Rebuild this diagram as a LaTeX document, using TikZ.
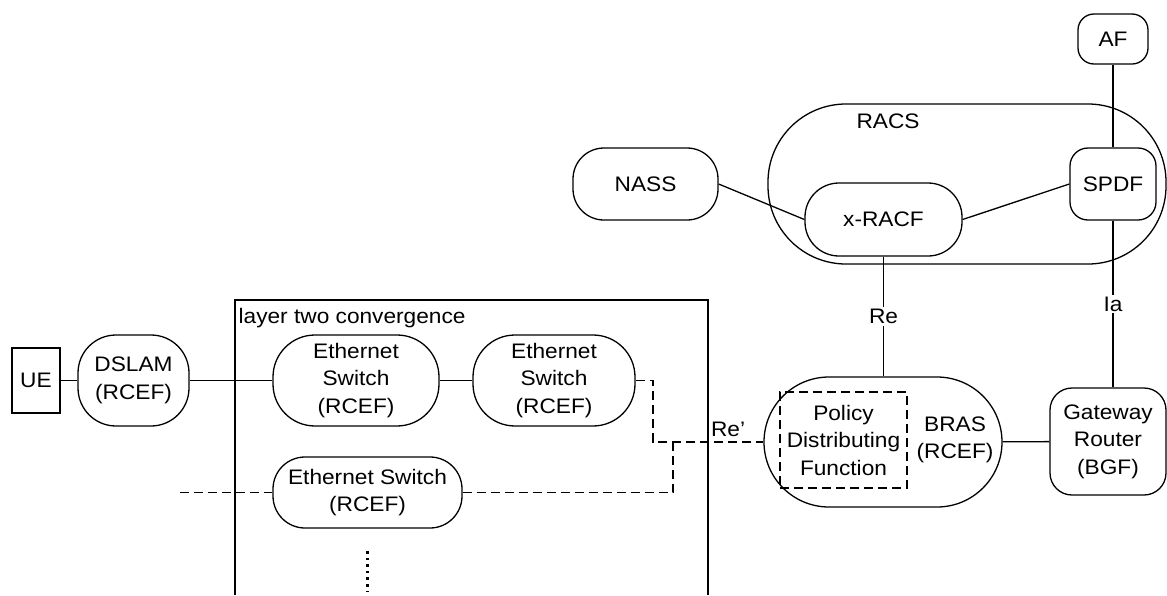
\documentclass[tikz,border=0pt]{standalone}
\usepackage{fontspec}
\setmainfont{Liberation Sans}[FakeStretch=1.08]

\begin{document}
\begin{tikzpicture}[x=1pt,y=-1pt,line width=1.3pt,
  every node/.style={font=\fontsize{21}{27.5}\selectfont,inner sep=0pt,align=center},
  fe/.style={draw=black,rounded corners=#1},
  fe/.default=0pt,
  dsh/.style={dash pattern=on 9pt off 5pt}]
\useasboundingbox (0,0) rectangle (1167,595);
\draw (235,595) -- (235,300) -- (708,300) -- (708,595);
\node [anchor=base west] (l2c) at (238,323) {layer two convergence};
\node [fe, minimum width=48, minimum height=65] (ue) at (36,380.5) {UE};
\node [fe=38, minimum width=111, minimum height=91] (dslam) at (133.5,380.5) {DSLAM\\(RCEF)};
\node [fe=42, minimum width=166, minimum height=91] (es1) at (356,380.5) {Ethernet\\Switch\\(RCEF)};
\node [fe=42, minimum width=162, minimum height=91] (es2) at (554,380.5) {Ethernet\\Switch\\(RCEF)};
\node [fe=32, minimum width=189, minimum height=71] (es3) at (367.5,492.5) {Ethernet Switch\\(RCEF)};
\node [fe=31, minimum width=145, minimum height=72] (nass) at (645.5,184) {NASS};
\node [fe=78, minimum width=398, minimum height=160] (racs) at (967,184) {};
\node [anchor=base] (racsl) at (888,128) {RACS};
\node [fe=34, minimum width=157, minimum height=73] (xracf) at (883.5,219.5) {x-RACF};
\node [fe=18, minimum width=86, minimum height=72] (spdf) at (1113,184) {SPDF};
\node [fe=16, minimum width=70, minimum height=50] (af) at (1113,39) {AF};
\node [fe=65, minimum width=238, minimum height=130] (bras) at (883,442) {};
\node [draw, dsh, minimum width=127, minimum height=96] (pdf) at (843.5,440) {Policy\\Distributing\\Function};
\node (brasl) at (955,440) {BRAS\\(RCEF)};
\node [fe=22, minimum width=116, minimum height=107] (gw) at (1108,441.5) {Gateway\\Router\\(BGF)};
\coordinate (jn) at (653,442);
\coordinate (jm) at (673,442);
\coordinate (ln) at (180,492.5);
\coordinate (d1) at (367.5,551);
\coordinate (d2) at (367.5,592);
\draw (ue) -- (dslam);
\draw (dslam) -- (es1);
\draw (es1) -- (es2);
\draw (nass.east) -- (xracf.west);
\draw (xracf.east) -- (spdf.west);
\draw (af) -- (spdf);
\draw (xracf.south) -- node [fill=white,inner sep=2pt] {Re} (xracf.south |- bras.north);
\draw (spdf.south) -- node [fill=white,inner sep=2pt] {Ia} (spdf.south |- gw.north);
\draw (bras) -- (gw);
\draw [dsh] (es2.east) -| (jn) -- node [above,pos=.68,inner sep=5pt] {Re’} (bras.west);
\draw [dsh] (ln) -- (es3.west);
\draw [dsh] (es3.east) -| (jm);
\draw [line width=3pt,dash pattern=on 2.6pt off 4pt] (d1) -- (d2);
\end{tikzpicture}
\end{document}
